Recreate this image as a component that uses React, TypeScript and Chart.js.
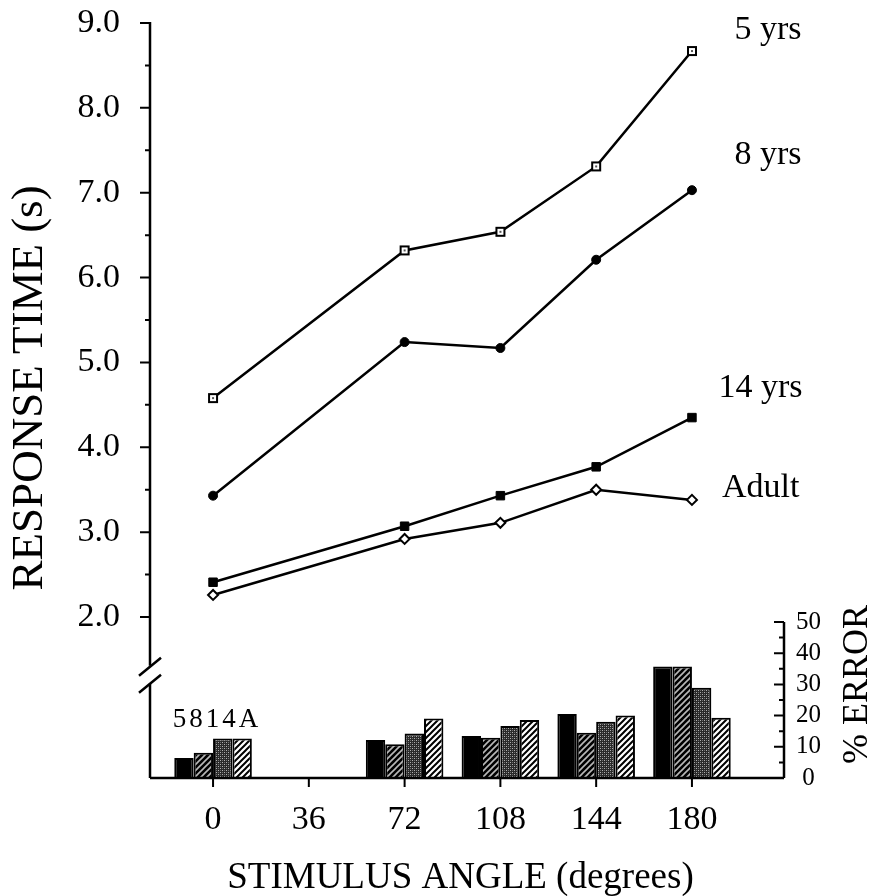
import React, { useEffect, useRef } from 'react';
import { Chart, registerables } from 'chart.js';

Chart.register(...registerables);

// ---- data ----
const angles = [0, 72, 108, 144, 180];
const angleTicks = [0, 36, 72, 108, 144, 180];
const rt5 = [4.58, 6.32, 6.54, 7.31, 8.67];
const rt8 = [3.43, 5.24, 5.17, 6.21, 7.03];
const rt14 = [2.41, 3.07, 3.43, 3.77, 4.35];
const rtAdult = [2.26, 2.92, 3.11, 3.5, 3.38];
const err5 = [6.4, 12.2, 13.5, 20.5, 35.7];
const err8 = [8.1, 10.8, 12.9, 14.5, 35.7];
const err14 = [12.7, 14.3, 16.7, 18.0, 28.9];
const errAdult = [12.7, 19.1, 18.6, 20.0, 19.3];
const seriesNames = ['5 yrs', '8 yrs', '14 yrs', 'Adult'];
const barKeyText = '5814A';
const rtTickValues = [2, 3, 4, 5, 6, 7, 8, 9];
const rtMinorValues = [2.5, 3.5, 4.5, 5.5, 6.5, 7.5, 8.5];
const errTickValues = [0, 10, 20, 30, 40, 50];
const errMinorValues = [5, 15, 25, 35, 45];
const xTitle = 'STIMULUS ANGLE (degrees)';
const yTitle = 'RESPONSE TIME (s)';
const y2Title = '% ERROR';

const FONT = "'Liberation Serif', 'Times New Roman', serif";

function hatch(bg: string, fg: string, lw: number, size = 6) {
  const c = document.createElement('canvas');
  c.width = size;
  c.height = size;
  const g = c.getContext('2d')!;
  g.fillStyle = bg;
  g.fillRect(0, 0, size, size);
  g.strokeStyle = fg;
  g.lineWidth = lw;
  g.beginPath();
  g.moveTo(-1, size + 1);
  g.lineTo(size + 1, -1);
  g.moveTo(-size / 2 - 1, size / 2 + 1);
  g.lineTo(size / 2 + 1, -size / 2 - 1);
  g.moveTo(size / 2 - 1, size * 1.5 + 1);
  g.lineTo(size * 1.5 + 1, size / 2 - 1);
  g.stroke();
  return g.createPattern(c, 'repeat')!;
}

function stipple() {
  const c = document.createElement('canvas');
  c.width = 4;
  c.height = 4;
  const g = c.getContext('2d')!;
  g.fillStyle = '#2a2a2a';
  g.fillRect(0, 0, 4, 4);
  g.fillStyle = '#b0b0b0';
  g.fillRect(0, 0, 1, 1);
  g.fillRect(2, 2, 1, 1);
  g.fillStyle = '#707070';
  g.fillRect(2, 0, 1, 1);
  g.fillRect(0, 2, 1, 1);
  return g.createPattern(c, 'repeat')!;
}

function openSquareDot() {
  const c = document.createElement('canvas');
  c.width = 12;
  c.height = 12;
  const g = c.getContext('2d')!;
  g.fillStyle = '#fff';
  g.fillRect(1, 1, 10, 10);
  g.strokeStyle = '#000';
  g.lineWidth = 2;
  g.strokeRect(2, 2, 8, 8);
  g.fillStyle = '#555';
  g.fillRect(5, 5, 2, 2);
  return c;
}

const axesPlugin = {
  id: 'customAxes',
  afterDraw(chart: any) {
    const { ctx, chartArea } = chart;
    const x = chart.scales.x;
    const yRT = chart.scales.yRT;
    const yErr = chart.scales.yErr;
    ctx.save();
    ctx.strokeStyle = '#000';
    ctx.fillStyle = '#000';
    ctx.lineWidth = 2.5;
    ctx.lineCap = 'butt';

    const lx = chartArea.left;
    const rx = chartArea.right;
    const by = chartArea.bottom;
    // break position on the left axis
    const brk = yRT.getPixelForValue(1.32);
    ctx.beginPath();
    ctx.moveTo(lx, yRT.getPixelForValue(9) - 1);
    ctx.lineTo(lx, brk - 9);
    ctx.moveTo(lx, brk + 9);
    ctx.lineTo(lx, by);
    ctx.stroke();
    ctx.beginPath();
    ctx.moveTo(lx - 11, brk + 1);
    ctx.lineTo(lx + 11, brk - 17);
    ctx.moveTo(lx - 11, brk + 18);
    ctx.lineTo(lx + 11, brk);
    ctx.stroke();
    // left ticks
    ctx.lineWidth = 2;
    ctx.beginPath();
    rtTickValues.forEach((v) => {
      const p = yRT.getPixelForValue(v);
      ctx.moveTo(lx - 10, p);
      ctx.lineTo(lx, p);
    });
    rtMinorValues.forEach((v) => {
      const p = yRT.getPixelForValue(v);
      ctx.moveTo(lx - 5, p);
      ctx.lineTo(lx, p);
    });
    ctx.stroke();
    // bottom axis
    ctx.lineWidth = 2.5;
    ctx.beginPath();
    ctx.moveTo(lx, by);
    ctx.lineTo(rx, by);
    ctx.stroke();
    ctx.lineWidth = 2;
    ctx.beginPath();
    angleTicks.forEach((v) => {
      const p = x.getPixelForValue(v);
      ctx.moveTo(p, by);
      ctx.lineTo(p, by + 9);
    });
    ctx.stroke();
    // right axis (0..50)
    ctx.lineWidth = 2.5;
    ctx.beginPath();
    ctx.moveTo(rx, by);
    ctx.lineTo(rx, yErr.getPixelForValue(50));
    ctx.stroke();
    ctx.lineWidth = 2;
    ctx.beginPath();
    errTickValues.forEach((v) => {
      const p = yErr.getPixelForValue(v);
      ctx.moveTo(rx - 10, p);
      ctx.lineTo(rx, p);
    });
    errMinorValues.forEach((v) => {
      const p = yErr.getPixelForValue(v);
      ctx.moveTo(rx - 5, p);
      ctx.lineTo(rx, p);
    });
    ctx.stroke();

    // axis titles
    ctx.textAlign = 'center';
    ctx.textBaseline = 'middle';
    ctx.save();
    ctx.font = `36px ${FONT}`;
    ctx.translate(rx + 74, yErr.getPixelForValue(30));
    ctx.rotate(-Math.PI / 2);
    ctx.fillText(y2Title, 0, 0);
    ctx.restore();

    ctx.save();
    ctx.font = `45px ${FONT}`;
    ctx.translate(lx - 120, yRT.getPixelForValue(4.7));
    ctx.rotate(-Math.PI / 2);
    ctx.fillText(yTitle, 0, 0);
    ctx.restore();

    ctx.font = `37px ${FONT}`;
    ctx.fillText(xTitle, x.getPixelForValue(93), by + 100);

    // series labels at the right end of the lines
    const placement = [
      { x: 196, y: 8.92 },
      { x: 196, y: 7.44 },
      { x: 190, y: 4.7 },
      { x: 191.3, y: 3.52 },
    ];
    ctx.font = `34px ${FONT}`;
    ctx.textAlign = 'left';
    ctx.textBaseline = 'middle';
    seriesNames.forEach((name, i) => {
      ctx.fillText(name, x.getPixelForValue(placement[i].x), yRT.getPixelForValue(placement[i].y));
    });

    // bar key above the first group
    const first = chart.getDatasetMeta(4).data[0];
    const last = chart.getDatasetMeta(7).data[0];
    if (first && last) {
      ctx.font = `27px ${FONT}`;
      (ctx as any).letterSpacing = '3px';
      ctx.textAlign = 'center';
      ctx.textBaseline = 'alphabetic';
      ctx.fillText(barKeyText, (first.x + last.x) / 2 + 4, yErr.getPixelForValue(16.5));
    }
    ctx.restore();
  },
};

export default function App() {
  const ref = useRef<HTMLCanvasElement | null>(null);
  useEffect(() => {
    if (!ref.current) return;
    const pts = (ys: number[]) => angles.map((a, i) => ({ x: a, y: ys[i] }));
    const lineBase = {
      type: 'line' as const,
      yAxisID: 'yRT',
      borderColor: '#000',
      borderWidth: 2.5,
      fill: false,
      tension: 0,
      order: 0,
    };
    const barBase = {
      type: 'bar' as const,
      yAxisID: 'yErr',
      borderColor: '#000',
      borderWidth: 2,
      categoryPercentage: 0.81,
      barPercentage: 1.0,
      order: 1,
    };
    const chart = new Chart(ref.current, {
      type: 'bar',
      data: {
        datasets: [
          { ...lineBase, label: seriesNames[0], data: pts(rt5), pointStyle: openSquareDot() as any, pointRadius: 6, pointBackgroundColor: '#fff', pointBorderColor: '#000' },
          { ...lineBase, label: seriesNames[1], data: pts(rt8), pointStyle: 'circle', pointRadius: 4.5, pointBackgroundColor: '#000', pointBorderColor: '#000', pointBorderWidth: 1 },
          { ...lineBase, label: seriesNames[2], data: pts(rt14), pointStyle: 'rect', pointRadius: 6, pointBackgroundColor: '#000', pointBorderColor: '#000', pointBorderWidth: 1 },
          { ...lineBase, label: seriesNames[3], data: pts(rtAdult), pointStyle: 'rectRot', pointRadius: 5, pointBackgroundColor: '#fff', pointBorderColor: '#000', pointBorderWidth: 2 },
          { ...barBase, label: 'err ' + seriesNames[0], data: pts(err5), backgroundColor: '#000' },
          { ...barBase, label: 'err ' + seriesNames[1], data: pts(err8), backgroundColor: hatch('#000', '#b8b8b8', 1.6) },
          { ...barBase, label: 'err ' + seriesNames[2], data: pts(err14), backgroundColor: stipple() },
          { ...barBase, label: 'err ' + seriesNames[3], data: pts(errAdult), backgroundColor: hatch('#fff', '#000', 2) },
        ] as any,
      },
      options: {
        responsive: false,
        animation: false,
        devicePixelRatio: 1,
        layout: { padding: 0 },
        plugins: { legend: { display: false }, tooltip: { enabled: false } },
        scales: {
          x: {
            type: 'linear',
            position: 'bottom',
            min: -23.7,
            max: 214.6,
            offset: false,
            grid: { display: false, drawTicks: false, offset: false },
            border: { display: false },
            afterBuildTicks: (s: any) => {
              s.ticks = angleTicks.map((v) => ({ value: v }));
            },
            afterFit: (s: any) => {
              s.height = 118;
              s.paddingLeft = 0;
              s.paddingRight = 0;
            },
            ticks: {
              color: '#000',
              font: { family: FONT, size: 34 },
              padding: 22,
              maxRotation: 0,
              autoSkip: false,
              callback: (v: any) => String(v),
            },
            title: { display: false, text: xTitle },
          },
          yRT: {
            type: 'linear',
            position: 'left',
            min: 0.103,
            max: 9.0,
            grid: { display: false, drawTicks: false },
            border: { display: false },
            afterBuildTicks: (s: any) => {
              s.ticks = rtTickValues.map((v) => ({ value: v }));
            },
            afterFit: (s: any) => {
              s.width = 150;
              s.paddingTop = 23;
              s.paddingBottom = 0;
            },
            ticks: {
              color: '#000',
              font: { family: FONT, size: 34 },
              padding: 30,
              callback: (v: any) => Number(v).toFixed(1),
            },
            title: { display: false, text: yTitle },
          },
          yErr: {
            type: 'linear',
            position: 'right',
            min: 0,
            max: 242,
            grid: { display: false, drawTicks: false },
            border: { display: false },
            afterBuildTicks: (s: any) => {
              s.ticks = errTickValues.map((v) => ({ value: v }));
            },
            afterFit: (s: any) => {
              s.width = 90;
              s.paddingTop = 0;
              s.paddingBottom = 0;
            },
            ticks: {
              color: '#000',
              font: { family: FONT, size: 25 },
              padding: 12,
              crossAlign: 'center',
              callback: (v: any) => String(v),
            },
          },
        },
      } as any,
      plugins: [axesPlugin],
    });
    return () => chart.destroy();
  }, []);
  return (
    <div style={{ position: 'absolute', left: 0, top: 0, width: 874, height: 896, background: '#fff' }}>
      <canvas ref={ref} width={874} height={896} />
    </div>
  );
}
